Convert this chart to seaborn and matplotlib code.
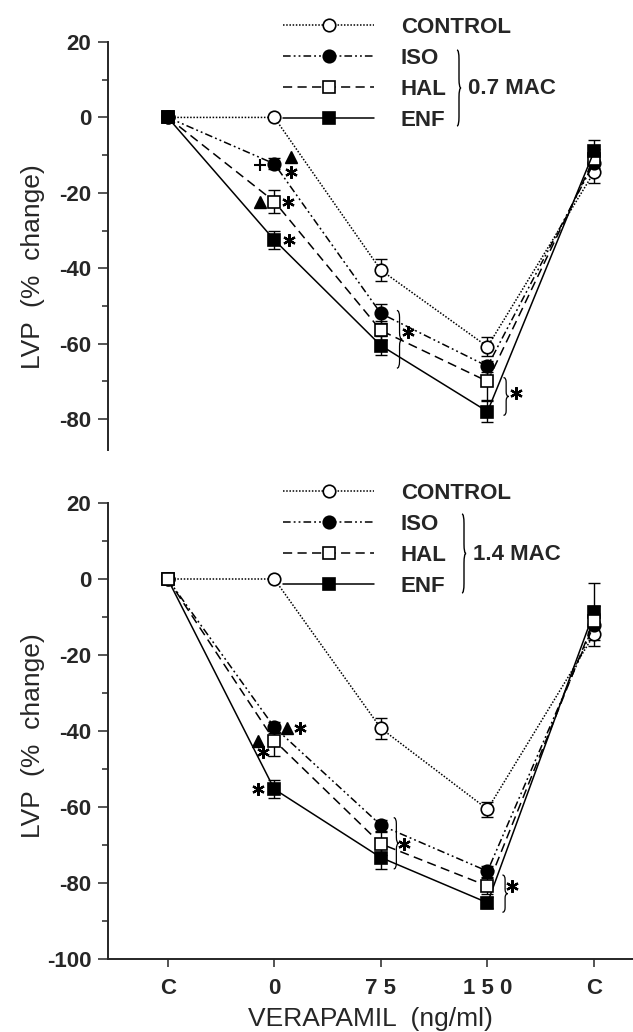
import numpy as np
import matplotlib
matplotlib.use("Agg")
import matplotlib.pyplot as plt
from matplotlib.path import Path
from matplotlib.patches import PathPatch
import seaborn as sns

sns.set_style("ticks")
plt.rcParams['font.family'] = ['Liberation Sans', 'DejaVu Sans']
plt.rcParams['axes.unicode_minus'] = False

# ---------------- data ----------------
x_pos = [0, 1, 2, 3, 4]
x_labels = ["C", "0", "7 5", "1 5 0", "C"]
series = ["CONTROL", "ISO", "HAL", "ENF"]

# Panel A: 0.7 MAC
top_control = [0, 0, -40.5, -60.8, -14.5]
top_iso = [0, -12.3, -52.0, -66.0, -12.0]
top_hal = [0, -22.3, -56.5, -70.0, -11.0]
top_enf = [0, -32.5, -60.5, -78.0, -9.0]
top_control_err = [0, 0, 3.0, 2.5, 3.0]
top_iso_err = [0, 1.5, 2.5, 1.5, 2.0]
top_hal_err = [0, 3.0, 2.5, 5.0, 2.5]
top_enf_err = [0, 2.5, 2.5, 2.8, 3.0]

# Panel B: 1.4 MAC
bot_control = [0, 0, -39.3, -60.6, -14.6]
bot_iso = [0, -39.0, -64.8, -76.9, -12.0]
bot_hal = [0, -42.5, -69.7, -80.8, -11.0]
bot_enf = [0, -55.3, -73.3, -85.2, -8.6]
bot_control_err = [0, 0, 2.8, 2.0, 3.0]
bot_iso_err = [0, 1.5, 1.5, 1.5, 3.0]
bot_hal_err = [0, 4.0, 3.0, 2.0, 4.0]
bot_enf_err = [0, 2.4, 3.0, 1.5, 7.5]

# ---------------- styles ----------------
styles = {
    "CONTROL": dict(ls=(0, (1, 1.1)), marker="o", mfc="white"),
    "ISO": dict(ls=(0, (5, 2, 1.2, 2, 1.2, 2)), marker="o", mfc="black"),
    "HAL": dict(ls=(0, (6, 3.5)), marker="s", mfc="white"),
    "ENF": dict(ls="-", marker="s", mfc="black"),
}

W, H = 633, 1032
fig = plt.figure(figsize=(W / 100, H / 100), dpi=100)
ax1 = fig.add_axes([108 / W, 1 - 450 / H, 525 / W, 408 / H])
ax2 = fig.add_axes([108 / W, 1 - 959 / H, 525 / W, 456 / H])


def brace(ax, x, y_top, y_bot, w, transform=None, lw=0.9):
    ym = (y_top + y_bot) / 2.0
    d = (y_top - y_bot) * 0.12
    xm = x + w / 2.0
    verts = [(x, y_top), (xm, y_top), (xm, y_top - d),
             (xm, ym + d),
             (xm, ym), (x + w, ym),
             (xm, ym), (xm, ym - d),
             (xm, y_bot + d),
             (xm, y_bot), (x, y_bot)]
    codes = [Path.MOVETO, Path.CURVE3, Path.CURVE3,
             Path.LINETO,
             Path.CURVE3, Path.CURVE3,
             Path.CURVE3, Path.CURVE3,
             Path.LINETO,
             Path.CURVE3, Path.CURVE3]
    patch = PathPatch(Path(verts, codes), fill=False, lw=lw, color="black",
                      transform=transform if transform is not None else ax.transData,
                      clip_on=False)
    ax.add_patch(patch) if transform is None else fig.add_artist(patch)


def draw_panel(ax, vals, errs, order):
    handles = {}
    for name in order:
        st = styles[name]
        sns.lineplot(x=x_pos, y=vals[name], ax=ax, color="black", lw=1.1,
                     linestyle=st["ls"], marker=st["marker"], markersize=9,
                     markerfacecolor=st["mfc"], markeredgecolor="black",
                     markeredgewidth=1.2, legend=False, zorder=3)
        handles[name] = ax.lines[-1]
        e = np.array(errs[name])
        v = np.array(vals[name])
        m = e > 0
        ax.errorbar(np.array(x_pos)[m], v[m], yerr=e[m], fmt="none", ecolor="black",
                    elinewidth=1.0, capsize=4, capthick=1.0, zorder=2)
    return [handles[n] for n in series]


def style_axis(ax, ylim, show_x):
    ax.set_ylim(*ylim)
    ax.set_xlim(-0.56, 4.365)
    ax.set_yticks(np.arange(20, ylim[0] - 0.1, -20))
    ax.set_yticks(np.arange(10, ylim[0] - 0.1, -20), minor=True)
    ax.tick_params(axis="y", which="major", direction="out", length=7, width=1.1,
                   labelsize=16, pad=5)
    ax.tick_params(axis="y", which="minor", direction="out", length=4.5, width=1.1)
    for lab in ax.get_yticklabels():
        lab.set_fontweight("bold")
    ax.spines["top"].set_visible(False)
    ax.spines["right"].set_visible(False)
    ax.spines["left"].set_linewidth(1.4)
    if show_x:
        ax.spines["bottom"].set_linewidth(1.4)
        ax.set_xticks(x_pos)
        ax.set_xticklabels(x_labels, fontsize=16, fontweight="bold")
        ax.tick_params(axis="x", direction="out", length=5.5, width=1.1, pad=8)
        ax.set_xlabel("VERAPAMIL  (ng/ml)", fontsize=19, labelpad=6)
    else:
        ax.spines["bottom"].set_visible(False)
        ax.set_xticks([])
    ax.set_ylabel("LVP  (%  change)", fontsize=19)


top_vals = {"CONTROL": top_control, "ISO": top_iso, "HAL": top_hal, "ENF": top_enf}
top_errs = {"CONTROL": top_control_err, "ISO": top_iso_err, "HAL": top_hal_err, "ENF": top_enf_err}
bot_vals = {"CONTROL": bot_control, "ISO": bot_iso, "HAL": bot_hal, "ENF": bot_enf}
bot_errs = {"CONTROL": bot_control_err, "ISO": bot_iso_err, "HAL": bot_hal_err, "ENF": bot_enf_err}

h1 = draw_panel(ax1, top_vals, top_errs, ["CONTROL", "ISO", "HAL", "ENF"])
h2 = draw_panel(ax2, bot_vals, bot_errs, ["CONTROL", "ISO", "ENF", "HAL"])
style_axis(ax1, (-88.2, 20), False)
style_axis(ax2, (-100, 20), True)
ax1.yaxis.set_label_coords(-0.12, 0.45)
ax2.yaxis.set_label_coords(-0.12, 0.49)

# legends
for ax, hs, ytop_px, mac, bx, rows in [(ax1, h1, 17, "0.7 MAC", 457, (50, 126)),
                                       (ax2, h2, 483, "1.4 MAC", 462, (514, 593))]:
    leg = ax.legend(hs, series, loc="upper left", bbox_to_anchor=(283 / W, 1 - ytop_px / H),
                    bbox_transform=fig.transFigure, frameon=False, borderpad=0,
                    borderaxespad=0, handlelength=4.1, handletextpad=1.2,
                    labelspacing=0.45, numpoints=1,
                    prop={"size": 16, "weight": "bold", "family": "Liberation Sans"})
    brace(ax, bx / W, 1 - rows[0] / H, 1 - rows[1] / H, 4 / W, transform=fig.transFigure, lw=1.0)
    fig.text((bx + 11) / W, 1 - ((rows[0] + rows[1]) / 2 + 1) / H, mac, fontsize=16,
             fontweight="bold", ha="left", va="center")

# significance annotations: (symbol, series values, index, dx, dy)
top_marks = [("+", top_iso, 1, -0.13, -0.3), ("^", top_iso, 1, 0.16, 1.8),
             ("*", top_iso, 1, 0.16, -2.2), ("^", top_hal, 1, -0.13, 0.0),
             ("*", top_hal, 1, 0.13, 0.0), ("*", top_enf, 1, 0.14, 0.0),
             ("*", top_hal, 2, 0.25, -0.5), ("*", top_hal, 3, 0.27, -3.0)]
bot_marks = [("^", bot_hal, 1, -0.15, 0.0), ("*", bot_hal, 1, -0.11, -3.0),
             ("^", bot_iso, 1, 0.12, -0.3), ("*", bot_iso, 1, 0.24, -0.3),
             ("*", bot_enf, 1, -0.15, 0.0), ("*", bot_hal, 2, 0.22, 0.0),
             ("*", bot_hal, 3, 0.23, 0.0)]
# braces: (values top series, values bottom series, index, dx, pad_top, pad_bottom)
top_braces = [(top_iso, top_enf, 2, 0.15, 0.8, -6.0), (top_hal, top_enf, 3, 0.15, 1.0, -1.0)]
bot_braces = [(bot_iso, bot_enf, 2, 0.12, 2.0, -3.0), (bot_iso, bot_enf, 3, 0.14, -1.0, -2.5)]

for ax, marks, braces in [(ax1, top_marks, top_braces), (ax2, bot_marks, bot_braces)]:
    for sym, vals, i, dx, dy in marks:
        x, y = x_pos[i] + dx, vals[i] + dy
        if sym == "^":
            ax.plot([x], [y], marker="^", ms=9, color="black", zorder=4)
        elif sym == "+":
            ax.plot([x], [y], marker="+", ms=9, mew=1.5, color="black", zorder=4)
        else:
            ax.plot([x], [y], marker=(6, 2, 0), ms=9, mew=1.6, color="black", zorder=4)
    for vt, vb, i, dx, pt, pb in braces:
        brace(ax, x_pos[i] + dx, vt[i] + pt, vb[i] + pb, 0.05)

fig.savefig("out.png", dpi=100, facecolor="white")
